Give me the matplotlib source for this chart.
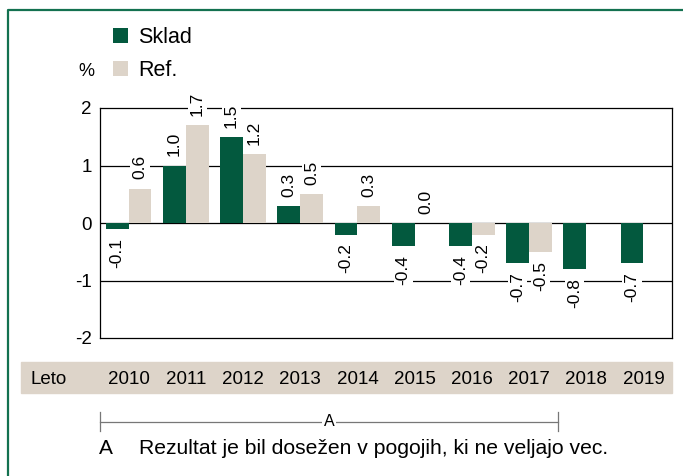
import numpy as np
import matplotlib
matplotlib.use("Agg")
import matplotlib.pyplot as plt
from matplotlib.lines import Line2D
from matplotlib.patches import Rectangle
import matplotlib.transforms as mtransforms

plt.rcParams['font.family'] = ['Liberation Sans', 'DejaVu Sans']

years = ["2010", "2011", "2012", "2013", "2014", "2015", "2016", "2017", "2018", "2019"]
sklad = [-0.1, 1.0, 1.5, 0.3, -0.2, -0.4, -0.4, -0.7, -0.8, -0.7]
ref = [0.6, 1.7, 1.2, 0.5, 0.3, 0.0, -0.2, -0.5, np.nan, np.nan]
series_names = ["Sklad", "Ref."]
yticks = [-2, -1, 0, 1, 2]
bracket_range = (0, 7)  # 2010 .. 2017
bracket_label = "A"
footnote_key = "A"
footnote = "Rezultat je bil dosežen v pogojih, ki ne veljajo vec."
band_label = "Leto"
unit = "%"

GREEN = "#03593e"
BEIGE = "#ddd4c9"
FRAME = "#137150"

W, H = 683, 476
fig = plt.figure(figsize=(W / 100, H / 100), dpi=100)

def fx(px):
    return px / W

def fy(py):
    return (H - py) / H

ax = fig.add_axes([fx(100), fy(338), fx(672) - fx(100), fy(108) - fy(338)])

x = np.arange(len(years))
bw = 0.4
b1 = ax.bar(x - bw / 2, sklad, bw, color=GREEN, zorder=2, label=series_names[0])
b2 = ax.bar(x + bw / 2, ref, bw, color=BEIGE, zorder=2, label=series_names[1])

for yv in [-1, 0, 1]:
    ax.axhline(yv, color="black", lw=0.9, zorder=1)

ax.set_xlim(-0.5, len(years) - 0.5)
ax.set_ylim(-2, 2)
ax.set_yticks(yticks)
ax.set_yticklabels([str(t) for t in yticks], fontsize=13.5)
ax.set_xticks([])
ax.tick_params(axis="y", length=0, pad=6)
for s in ax.spines.values():
    s.set_linewidth(0.9)
    s.set_color("black")

# value labels
for xs, vals in [(x - bw / 2, sklad), (x + bw / 2, ref)]:
    for xi, v in zip(xs, vals):
        if v is None or np.isnan(v):
            continue
        if v >= 0:
            off, va = 6.5, "bottom"
        else:
            off, va = -6.5, "top"
        ax.annotate(f"{v:.1f}", xy=(xi, v), xytext=(0, off), textcoords="offset points",
                    rotation=90, ha="center", va=va, fontsize=12.5, zorder=5,
                    annotation_clip=False,
                    bbox=dict(boxstyle="square,pad=0.12", fc="white", ec="none"))

# green frame
fig.add_artist(Line2D([fx(8), fx(8), 1.0], [0.0, fy(10), fy(10)], color=FRAME, lw=1.6,
                      transform=fig.transFigure))

# year band
fig.add_artist(Rectangle((fx(21), fy(393)), fx(672) - fx(21), fy(362) - fy(393),
                         transform=fig.transFigure, color=BEIGE, zorder=0))
fig.text(fx(31), fy(379), band_label, fontsize=13.5, ha="left", va="center")
trans = mtransforms.blended_transform_factory(ax.transData, fig.transFigure)
for xi, yr in zip(x, years):
    fig.text(xi, fy(379), yr, fontsize=13.5, ha="center", va="center", transform=trans)

# bracket
x0, x1 = bracket_range[0] - 0.5, bracket_range[1] + 0.5
by = fy(422)
fig.add_artist(Line2D([x0, x1], [by, by], color="#777777", lw=0.9, transform=trans))
for xe in (x0, x1):
    fig.add_artist(Line2D([xe, xe], [fy(412), fy(431)], color="#777777", lw=0.9, transform=trans))
fig.text((x0 + x1) / 2, by, bracket_label, fontsize=11.5, ha="center", va="center", transform=trans,
         bbox=dict(boxstyle="square,pad=0.1", fc="white", ec="none"))

fig.text(fx(99), fy(449), footnote_key, fontsize=15, ha="left", va="center")
fig.text(fx(139), fy(449), footnote, fontsize=15.2, ha="left", va="center")

# legend
fig.legend(handles=[b1, b2], labels=series_names, loc="upper left",
           bbox_to_anchor=(fx(113), fy(27)), frameon=False, fontsize=15.5,
           handlelength=0.68, handleheight=0.68, handletextpad=0.5, labelspacing=0.55,
           borderaxespad=0, borderpad=0)
fig.text(fx(78), fy(71), unit, fontsize=13, ha="left", va="center")

fig.savefig("out.png", dpi=100)
